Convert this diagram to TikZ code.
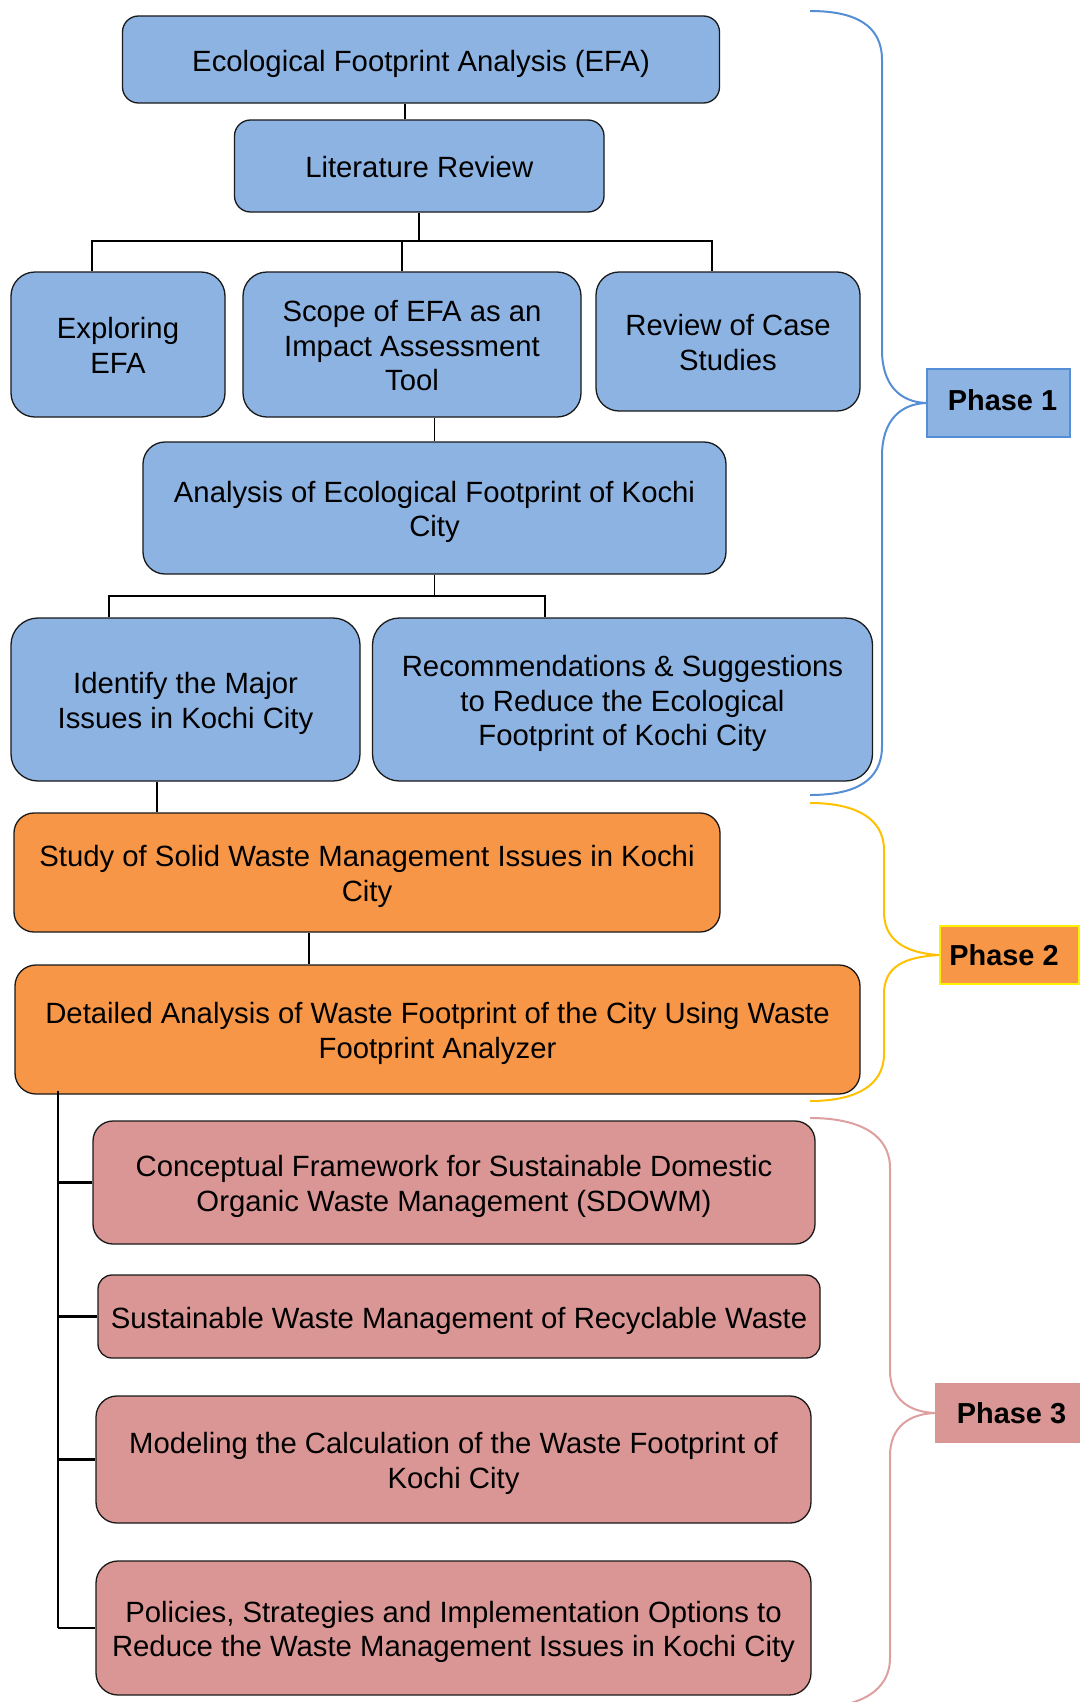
\documentclass[tikz,border=0pt]{standalone}
\usepackage{fontspec}
\setmainfont{Liberation Sans}
\definecolor{efablue}{HTML}{8DB3E2}
\definecolor{wasteorange}{HTML}{F79646}
\definecolor{planpink}{HTML}{D99694}
\definecolor{braceblue}{HTML}{558ED5}
\definecolor{braceyellow}{HTML}{FFC000}
\definecolor{bracepink}{HTML}{DDA09E}
\newcommand{\capstrut}{\rule{0pt}{1em}}
\newcommand{\descstrut}{\rule[-0.2em]{0pt}{0pt}}
\tikzset{
  stage/.style={draw=black!90, line width=1.3pt, align=center, inner sep=0pt,
    font=\fontsize{29.3}{34.7}\selectfont},
  efastage/.style={stage, fill=efablue},
  wastestage/.style={stage, fill=wasteorange},
  planstage/.style={stage, fill=planpink},
  phase/.style={inner sep=0pt, font=\fontsize{28.9}{34}\selectfont\bfseries},
  link/.style={line width=1.6pt},
  bar/.style={line width=2.2pt},
  brace/.style={line width=2pt}
}
\begin{document}
\begin{tikzpicture}[x=1pt, y=-1pt]
  \useasboundingbox (0,0) rectangle (1080,1702);
  % phase 1
  \node[efastage, minimum width=597, minimum height=87, rounded corners=16] (efa) at (421,59.5) {\capstrut Ecological Footprint Analysis (EFA)\descstrut};
  \node[efastage, minimum width=369.5, minimum height=92, rounded corners=16] (lit) at (419.25,166) {\capstrut Literature Review\descstrut};
  \node[efastage, minimum width=214, minimum height=145, rounded corners=24] (expl) at (118,344.5) {\capstrut Exploring\\EFA\descstrut};
  \node[efastage, minimum width=338, minimum height=145, rounded corners=24] (scope) at (412,344.5) {\capstrut Scope of EFA as an\\Impact Assessment\\Tool\descstrut};
  \node[efastage, minimum width=264, minimum height=139, rounded corners=23] (cases) at (728,341.5) {\capstrut Review of Case\\Studies\descstrut};
  \node[efastage, minimum width=583, minimum height=132, rounded corners=22] (anal) at (434.5,508) {\capstrut Analysis of Ecological Footprint of Kochi\\City\descstrut};
  \node[efastage, minimum width=349, minimum height=163, rounded corners=27] (ident) at (185.5,699.5) {\capstrut Identify the Major\\Issues in Kochi City\descstrut};
  \node[efastage, minimum width=500, minimum height=163, rounded corners=27] (recom) at (622.5,699.5) {\capstrut Recommendations \& Suggestions\\to Reduce the Ecological\\Footprint of Kochi City\descstrut};
  % phase 2
  \node[wastestage, minimum width=706, minimum height=119, rounded corners=20] (study) at (367,872.5) {\capstrut Study of Solid Waste Management Issues in Kochi\\City\descstrut};
  \node[wastestage, minimum width=845, minimum height=129, rounded corners=21] (detail) at (437.5,1029.5) {\capstrut Detailed Analysis of Waste Footprint of the City Using Waste\\Footprint Analyzer\descstrut};
  % phase 3
  \node[planstage, minimum width=722, minimum height=123, rounded corners=20] (conc) at (454,1182.5) {\capstrut Conceptual Framework for Sustainable Domestic\\Organic Waste Management (SDOWM)\descstrut};
  \node[planstage, minimum width=722, minimum height=83, rounded corners=14] (sust) at (459,1316.5) {\capstrut Sustainable Waste Management of Recyclable Waste\descstrut};
  \node[planstage, minimum width=715, minimum height=127, rounded corners=21] (model) at (453.5,1459.5) {\capstrut Modeling the Calculation of the Waste Footprint of\\Kochi City\descstrut};
  \node[planstage, minimum width=715, minimum height=134, rounded corners=22] (polic) at (453.5,1628) {\capstrut Policies, Strategies and Implementation Options to\\Reduce the Waste Management Issues in Kochi City\descstrut};
  % phase labels
  \node[phase, fill=efablue, draw=braceblue, line width=2pt, minimum width=143, minimum height=68] (ph1) at (998.5,403) {\raisebox{6pt}{\hspace*{8pt}Phase 1}};
  \node[phase, fill=wasteorange, draw=yellow, line width=2pt, minimum width=139, minimum height=58] (ph2) at (1009.5,955) {Phase 2\hspace*{11pt}};
  \node[phase, fill=planpink, minimum width=145, minimum height=60] (ph3) at (1007.5,1413) {\hspace*{8pt}Phase 3};
  % connectors
  \coordinate (stemA) at (405,0);
  \coordinate (knotA) at (92,241);
  \coordinate (knotB) at (402,241);
  \coordinate (knotC) at (712,241);
  \coordinate (knotD) at (109,596);
  \coordinate (knotE) at (545,596);
  \coordinate (stemC) at (157,0);
  \coordinate (stemD) at (309,0);
  \coordinate (trunk) at (58,0);
  \draw[link] (efa.south -| stemA) -- (lit.north -| stemA);
  \draw[link] (lit.south) -- (lit.south |- knotA);
  \draw[bar] (expl.north -| knotA) -- (knotA) -- (knotC) -- (cases.north -| knotC);
  \draw[link] (knotB) -- (scope.north -| knotB);
  \draw[link] (anal.north |- scope.south) -- (anal.north);
  \draw[link] (anal.south) -- (anal.south |- knotD);
  \draw[bar] (ident.north -| knotD) -- (knotD) -- (knotE) -- (recom.north -| knotE);
  \draw[link] (ident.south -| stemC) -- (study.north -| stemC);
  \draw[link] (study.south -| stemD) -- (detail.north -| stemD);
  \draw[bar] ([yshift=4pt]detail.south -| trunk) -- (polic.west -| trunk);
  \foreach \n in {conc,sust,model,polic}
    \draw[bar] (\n.west -| trunk) -- (\n.west);
  % braces
  \draw[brace, braceblue] (810,11) .. controls (855,11) and (882,25) .. (882,60) -- (882,350)
    .. controls (882,385) and (900,402) .. (ph1.west)
    .. controls (900,404) and (882,421) .. (882,456) -- (882,746)
    .. controls (882,781) and (855,795) .. (810,795);
  \draw[brace, braceyellow] (810,803) .. controls (855,803) and (884,818) .. (884,850) -- (884,912)
    .. controls (884,940) and (905,953) .. (ph2.west)
    .. controls (905,957) and (884,966) .. (884,994) -- (884,1054)
    .. controls (884,1086) and (855,1101) .. (810,1101);
  \draw[brace, bracepink] (810,1118) .. controls (860,1118) and (890,1135) .. (890,1168) -- (890,1370)
    .. controls (890,1400) and (910,1412) .. (ph3.west)
    .. controls (910,1414) and (890,1426) .. (890,1456) -- (890,1658)
    .. controls (890,1691) and (860,1708) .. (810,1708);
\end{tikzpicture}
\end{document}
